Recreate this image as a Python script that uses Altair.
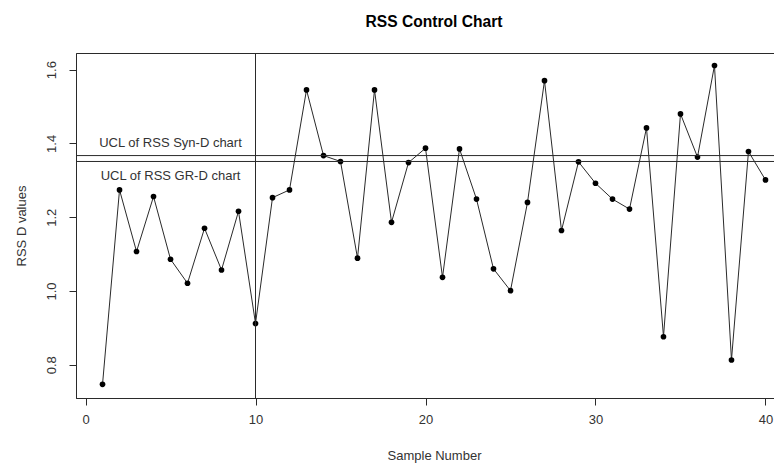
import altair as alt
import pandas as pd

samples = list(range(1, 41))
rss_d = [0.747, 1.274, 1.107, 1.256, 1.086, 1.021, 1.170, 1.057, 1.216, 0.912,
         1.253, 1.274, 1.545, 1.367, 1.351, 1.089, 1.545, 1.186, 1.348, 1.387,
         1.037, 1.385, 1.249, 1.060, 1.001, 1.240, 1.570, 1.164, 1.350, 1.292,
         1.249, 1.222, 1.442, 0.876, 1.480, 1.363, 1.611, 0.813, 1.378, 1.301]

ucl_values = [1.367, 1.351]
ucl_labels = ["UCL of RSS Syn-D chart", "UCL of RSS GR-D chart"]
label_x = [5, 5]
label_y = [1.402, 1.312]
vline_x = [10]

x_ticks = [0, 10, 20, 30, 40]
y_ticks = [0.8, 1.0, 1.2, 1.4, 1.6]

FONT = "Liberation Sans"
INK = "#2a2a2a"

df = pd.DataFrame({"n": samples, "v": rss_d})
ucl_df = pd.DataFrame({"u": ucl_values})
lab_df = pd.DataFrame({"x": label_x, "y": label_y, "t": ucl_labels})
vl_df = pd.DataFrame({"x": vline_x})

xscale = alt.Scale(domain=[-0.56, 41.56], nice=False, zero=False)
yscale = alt.Scale(domain=[0.71, 1.645], nice=False, zero=False)

xaxis = alt.Axis(values=x_ticks, format="d", grid=False, tickSize=7,
                 labelPadding=8, title="Sample Number", titlePadding=23,
                 titleFontWeight="normal")
yaxis = alt.Axis(values=y_ticks, format=".1f", grid=False, tickSize=7,
                 labelAngle=-90, labelAlign="center", labelBaseline="bottom",
                 labelPadding=11, title="RSS D values", titlePadding=17,
                 titleFontWeight="normal")

line = alt.Chart(df).mark_line(color=INK, strokeWidth=1).encode(
    x=alt.X("n:Q", scale=xscale, axis=xaxis),
    y=alt.Y("v:Q", scale=yscale, axis=yaxis),
)
pts = alt.Chart(df).mark_point(filled=True, shape="circle", size=32,
                               color="black", opacity=1).encode(
    x=alt.X("n:Q", scale=xscale),
    y=alt.Y("v:Q", scale=yscale),
)
hrules = alt.Chart(ucl_df).mark_rule(color=INK, strokeWidth=1).encode(
    y=alt.Y("u:Q", scale=yscale)
)
vrule = alt.Chart(vl_df).mark_rule(color=INK, strokeWidth=1).encode(
    x=alt.X("x:Q", scale=xscale)
)
texts = alt.Chart(lab_df).mark_text(font=FONT, fontSize=13, color="#333333",
                                    align="center", baseline="middle").encode(
    x=alt.X("x:Q", scale=xscale),
    y=alt.Y("y:Q", scale=yscale),
    text="t:N",
)

chart = alt.layer(line, pts, hrules, vrule, texts).properties(
    width=716,
    height=345,
    autosize=alt.AutoSizeParams(type="none"),
    padding={"left": 68, "top": 45, "right": -18, "bottom": 68},
    title=alt.TitleParams("RSS Control Chart", font=FONT, fontSize=15.6,
                          fontWeight="bold", color="black", anchor="middle",
                          offset=22),
).configure_view(stroke=INK, strokeWidth=1).configure_axis(
    labelFont=FONT, labelFontSize=13, labelColor="#333333",
    titleFont=FONT, titleFontSize=13, titleColor="#333333",
    domainColor=INK, tickColor=INK, domainWidth=1, tickWidth=1,
)

chart.save("out.html", embed_options={"renderer": "svg", "actions": False})
